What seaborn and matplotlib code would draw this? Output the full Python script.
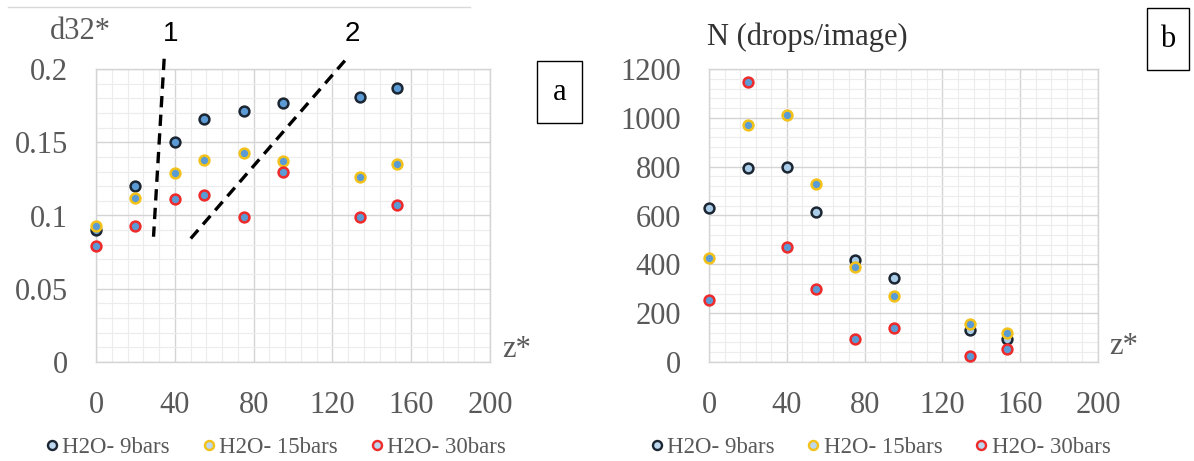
import matplotlib
matplotlib.use('Agg')
import matplotlib.pyplot as plt
from matplotlib.lines import Line2D
from matplotlib.patches import Rectangle
from matplotlib.ticker import MultipleLocator
import seaborn as sns
import pandas as pd

# z* positions shared by both panels
z = [0, 20, 40, 55, 75, 95, 134, 153]

# panel a: d32*
d32_9bars = [0.090, 0.120, 0.150, 0.166, 0.171, 0.177, 0.181, 0.187]
d32_15bars = [0.093, 0.112, 0.129, 0.138, 0.143, 0.137, 0.126, 0.135]
d32_30bars = [0.079, 0.093, 0.111, 0.114, 0.099, 0.130, 0.099, 0.107]

# panel b: N (drops/image)
n_9bars = [629, 795, 799, 615, 417, 344, 130, 93]
n_15bars = [426, 970, 1011, 728, 389, 272, 154, 119]
n_30bars = [253, 1145, 470, 297, 93, 138, 26, 52]

series = ['H2O- 9bars', 'H2O- 15bars', 'H2O- 30bars']
edges = ['#1c2633', '#f2c21b', '#ee2a2a']

# dashed guide lines on panel a (z*, d32*)
line1_z, line1_d = [34.6, 29.2], [0.207, 0.0855]
line2_z, line2_d = [48.1, 127.8], [0.0843, 0.208]

plt.rcParams['font.family'] = ['Liberation Serif', 'DejaVu Serif']
grey = '#595959'

W, H = 1194, 461
fig = plt.figure(figsize=(W / 100, H / 100), dpi=100)
ax1 = fig.add_axes([96/W, 1-362/H, 394/W, 293/H])
ax2 = fig.add_axes([709/W, 1-362/H, 389/W, 293/H])


def style(ax, ymax, ymajor, yminor):
    ax.set_xlim(0, 200)
    ax.set_ylim(0, ymax)
    ax.xaxis.set_major_locator(MultipleLocator(40))
    ax.xaxis.set_minor_locator(MultipleLocator(8))
    ax.yaxis.set_major_locator(MultipleLocator(ymajor))
    ax.yaxis.set_minor_locator(MultipleLocator(yminor))
    ax.grid(which='major', color='#d4d4d4', lw=1.0)
    ax.grid(which='minor', color='#ececec', lw=0.8)
    ax.set_axisbelow(True)
    for s in ax.spines.values():
        s.set_color('#d4d4d4')
        s.set_linewidth(1.0)
    ax.tick_params(which='both', length=0)
    ax.tick_params(axis='y', pad=20, labelsize=22, labelcolor=grey)
    ax.tick_params(axis='x', pad=21, labelsize=22, labelcolor=grey)
    ax.set_xlabel('')
    ax.set_ylabel('')


def draw(ax, ys, fills, lx):
    for name, y, ec, fc in zip(series, ys, edges, fills):
        df = pd.DataFrame({'z': z, 'v': y})
        sns.scatterplot(data=df, x='z', y='v', ax=ax, color=fc, edgecolor=ec,
                        linewidth=1.8, s=50, clip_on=False, zorder=3, legend=False)
    handles = [Line2D([], [], ls='', marker='o', ms=6.5, mfc='#bdd7ee', mec=ec, mew=1.7, label=n)
               for n, ec in zip(series, edges)]
    ax.legend(handles=handles, loc='center', bbox_to_anchor=(lx, -0.293), ncol=3,
              frameon=False, fontsize=16.5, handletextpad=-0.05, columnspacing=1.2,
              labelcolor=grey, handlelength=1.0, borderpad=0)


draw(ax1, [d32_9bars, d32_15bars, d32_30bars], ['#5b9bd5'] * 3, 0.45)
draw(ax2, [n_9bars, n_15bars, n_30bars], ['#a9cde8', '#5b9bd5', '#5b9bd5'], 0.434)
style(ax1, 0.2, 0.05, 0.01)
style(ax2, 1200, 200, 40)
ax1.set_yticks([0, 0.05, 0.1, 0.15, 0.2])
ax1.set_yticklabels(['0', '0.05', '0.1', '0.15', '0.2'])

# dashed guide lines
dash = dict(color='black', lw=2.4, dashes=(3.4, 2.2), clip_on=False, zorder=4)
ax1.plot(line1_z, line1_d, **dash)
ax1.plot(line2_z, line2_d, **dash)
ax1.text(37.7, 0.2236, '1', fontsize=20, ha='center', va='center',
         family=['Liberation Sans', 'DejaVu Sans'])
ax1.text(130, 0.2236, '2', fontsize=20, ha='center', va='center',
         family=['Liberation Sans', 'DejaVu Sans'])

# axis titles placed like the original
ax1.text(-8, 0.2257, 'd32*', fontsize=22, color=grey, ha='center', va='center', clip_on=False)
ax1.text(206, 0.0085, 'z*', fontsize=22, color=grey, ha='left', va='center', clip_on=False)
ax2.text(-1, 1330, 'N (drops/image)', fontsize=22, color='#333333', ha='left', va='center',
         clip_on=False)
ax2.text(206, 62, 'z*', fontsize=22, color=grey, ha='left', va='center', clip_on=False)

# panel boxes
for (x0, y0, x1, y1, lab) in [(537, 61, 582, 123, 'a'), (1147, 8, 1189, 70, 'b')]:
    fig.add_artist(Rectangle((x0/W, 1-y1/H), (x1-x0)/W, (y1-y0)/H,
                             transform=fig.transFigure, fill=False, ec='black', lw=1.0))
    fig.text((x0+x1)/2/W, 1-(y0+y1)/2/H, lab, fontsize=22, ha='center', va='center')

# faint line at the top of panel a
fig.add_artist(Line2D([8/W, 470/W], [1-7/H, 1-7/H], transform=fig.transFigure,
                      color='#d9d9d9', lw=1.0))

fig.savefig('out.png', dpi=100)
